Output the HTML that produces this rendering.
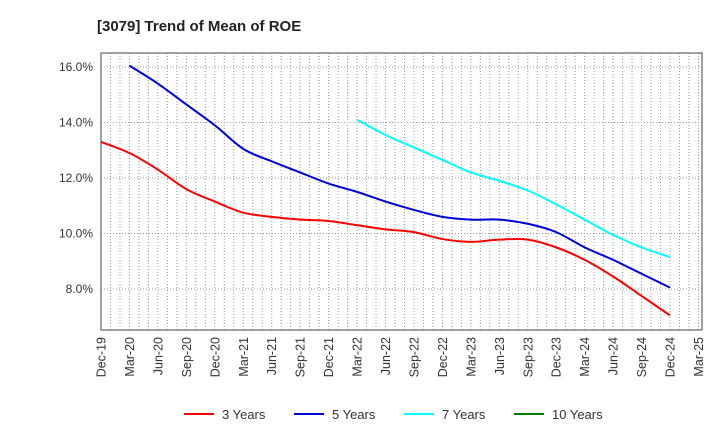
<!DOCTYPE html>
<html><head><meta charset="utf-8"><style>
body{margin:0;background:#fff;font-family:"Liberation Sans",sans-serif}
</style></head><body>
<svg id="c" width="720" height="440" xmlns="http://www.w3.org/2000/svg">
<text x="97" y="31" font-size="15" font-weight="bold" fill="#222">[3079]  Trend of Mean of ROE</text>
<g id="grid"></g>
<g id="yax"></g>
<g id="xax"></g>
<g id="lines"></g>
<rect x="101" y="53" width="601" height="277" fill="none" stroke="#444" stroke-width="1"/>
<g id="legend"></g>
</svg>
<script>
const xLabels=["Dec-19","Mar-20","Jun-20","Sep-20","Dec-20","Mar-21","Jun-21","Sep-21","Dec-21","Mar-22","Jun-22","Sep-22","Dec-22","Mar-23","Jun-23","Sep-23","Dec-23","Mar-24","Jun-24","Sep-24","Dec-24","Mar-25"];
const yTicks=[8,10,12,14,16];
const s3=[13.3,12.9,12.3,11.6,11.15,10.75,10.6,10.5,10.45,10.3,10.15,10.05,9.8,9.7,9.78,9.78,9.5,9.05,8.45,7.75,7.05];
const s5=[16.05,15.4,14.65,13.9,13.05,12.6,12.2,11.8,11.5,11.15,10.85,10.6,10.5,10.5,10.35,10.05,9.5,9.05,8.55,8.05];
const s7=[14.1,13.55,13.1,12.65,12.2,11.9,11.55,11.05,10.5,9.95,9.5,9.15];
const s10=[];
const seriesNames=["3 Years","5 Years","7 Years","10 Years"];
const NS="http://www.w3.org/2000/svg";
const L=101,R=702,T=53,B=330,STEP=28.45;
const X=i=>L+i*STEP, Y=v=>289-(v-8)*27.75;
function mk(t,a,p){const e=document.createElementNS(NS,t);for(const k in a)e.setAttribute(k,a[k]);p.appendChild(e);return e;}
const grid=document.getElementById('grid'),xax=document.getElementById('xax'),yax=document.getElementById('yax');
for(let m=1;m<(xLabels.length-1)*3+3;m++){const x=L+m*STEP/3;if(x>=R-1)break;
 const g=mk('line',{x1:x,x2:x,y1:T,y2:B,stroke:'#999','stroke-dasharray':'1,2','stroke-width':1},grid);
 }
yTicks.forEach(v=>{const g=mk('line',{x1:L,x2:R,y1:Y(v),y2:Y(v),stroke:'#999','stroke-dasharray':'1,2'},grid);
 
 const t=mk('text',{x:L-8,y:Y(v)+4,'text-anchor':'end','font-size':12,fill:'#333'},yax);t.textContent=v.toFixed(1)+'%';
 });
xLabels.forEach((s,i)=>{const x=X(i);const t=mk('text',{transform:`translate(${x+4.5},${B+7}) rotate(-90)`,'text-anchor':'end','font-size':12.5,fill:'#333'},xax);t.textContent=s;
 });
function path(pts){let d=`M${pts[0][0]},${pts[0][1]}`;for(let i=0;i<pts.length-1;i++){const p0=pts[i-1]||pts[i],p1=pts[i],p2=pts[i+1],p3=pts[i+2]||p2;
 d+=` C${p1[0]+(p2[0]-p0[0])/6},${p1[1]+(p2[1]-p0[1])/6} ${p2[0]-(p3[0]-p1[0])/6},${p2[1]-(p3[1]-p1[1])/6} ${p2[0]},${p2[1]}`;}return d;}
const lines=document.getElementById('lines');
[[s3,0,'#ff0000','series-3-years'],[s5,1,'#0000dd','series-5-years'],[s7,9,'#00ffff','series-7-years'],[s10,12,'#008000','series-10-years']].forEach(([s,o,c,n])=>{
 if(!s.length)return;const p=mk('path',{d:path(s.map((v,i)=>[X(i+o),Y(v)])),fill:'none',stroke:c,'stroke-width':2},lines);
 });
const leg=document.getElementById('legend');const cols=['#ff0000','#0000dd','#00ffff','#008000'];const lx=[184,294,404,514];
seriesNames.forEach((n,i)=>{const g=mk('g',{},leg);
 mk('line',{x1:lx[i],x2:lx[i]+30,y1:414,y2:414,stroke:cols[i],'stroke-width':2},g);
 const t=mk('text',{x:lx[i]+38,y:419,'font-size':13,fill:'#333'},g);t.textContent=n;});
</script>
</body></html>
